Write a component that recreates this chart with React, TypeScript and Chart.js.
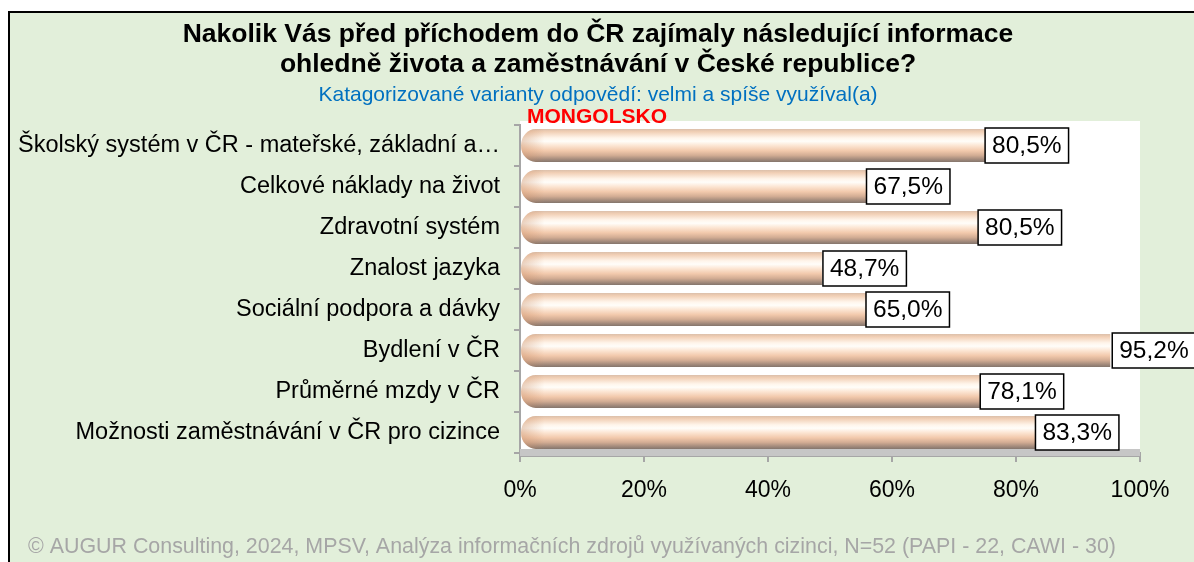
import React, { useEffect, useRef } from "react";
import { Chart, registerables } from "chart.js";

Chart.register(...registerables);

const categories = [
  "Školský systém v ČR - mateřské, základní a…",
  "Celkové náklady na život",
  "Zdravotní systém",
  "Znalost jazyka",
  "Sociální podpora a dávky",
  "Bydlení v ČR",
  "Průměrné mzdy v ČR",
  "Možnosti zaměstnávání v ČR pro cizince",
];
const values = [80.5, 67.5, 80.5, 48.7, 65.0, 95.2, 78.1, 83.3];
const xTicks = [0, 20, 40, 60, 80, 100];
const titleLines = [
  "Nakolik Vás před příchodem do ČR zajímaly následující informace",
  "ohledně života a zaměstnávání v České republice?",
];
const subtitleText = "Katagorizované varianty odpovědí: velmi a spíše využíval(a)";
const countryText = "MONGOLSKO";
const footerText =
  "© AUGUR Consulting, 2024, MPSV, Analýza informačních zdrojů využívaných cizinci, N=52 (PAPI - 22, CAWI - 30)";

const FONT = '"Liberation Sans", Arial, sans-serif';

function fmt(v: number) {
  return v.toFixed(1).replace(".", ",") + "%";
}

function drawCylinder(ctx: CanvasRenderingContext2D, x0: number, x1: number, yc: number, h: number) {
  const top = yc - h / 2;
  const g = ctx.createLinearGradient(0, top, 0, top + h);
  g.addColorStop(0, "#DCC0AB");
  g.addColorStop(0.08, "#F1CFB5");
  g.addColorStop(0.27, "#FFF5EB");
  g.addColorStop(0.37, "#FFFDF9");
  g.addColorStop(0.5, "#FCE6D4");
  g.addColorStop(0.66, "#F2C9AC");
  g.addColorStop(0.8, "#D3AD94");
  g.addColorStop(0.92, "#A48B7C");
  g.addColorStop(1, "#85766D");
  const rx = h * 0.45;
  ctx.save();
  ctx.beginPath();
  ctx.moveTo(x1, top);
  ctx.lineTo(x0 + rx, top);
  ctx.ellipse(x0 + rx, yc, rx, h / 2, 0, -Math.PI / 2, Math.PI / 2, true);
  ctx.lineTo(x1, top + h);
  ctx.closePath();
  ctx.fillStyle = g;
  ctx.fill();
  const hg = ctx.createLinearGradient(x0, 0, x0 + rx * 1.6, 0);
  hg.addColorStop(0, "rgba(200,140,100,0.4)");
  hg.addColorStop(1, "rgba(200,140,100,0)");
  ctx.fillStyle = hg;
  ctx.fill();
  ctx.restore();
}

const decorPlugin = {
  id: "decor",
  beforeDraw(chart: any) {
    const { ctx, chartArea: a } = chart;
    ctx.save();
    ctx.fillStyle = "#FFFFFF";
    ctx.fillRect(a.left, a.top - 4, a.right - a.left, a.bottom - a.top + 4);
    ctx.restore();
  },
  beforeDatasetsDraw(chart: any) {
    const { ctx, chartArea: a } = chart;
    ctx.save();
    ctx.fillStyle = "#C6C6C6";
    ctx.fillRect(a.left, a.bottom - 4, a.right - a.left, 8);
    ctx.fillStyle = "#A6A6A6";
    ctx.fillRect(a.left, a.bottom + 3, a.right - a.left, 1);
    ctx.restore();
  },
  afterDatasetsDraw(chart: any, _args: any, opts: any) {
    const { ctx } = chart;
    const meta = chart.getDatasetMeta(0);
    const shifts: number[] = opts.labelShift || [];
    meta.data.forEach((el: any) => {
      const p = el.getProps(["x", "y", "base", "height"], true);
      drawCylinder(ctx, p.base, p.x, p.y, p.height);
    });
    ctx.save();
    ctx.font = `24.5px ${FONT}`;
    ctx.textBaseline = "middle";
    ctx.textAlign = "left";
    meta.data.forEach((el: any, i: number) => {
      const p = el.getProps(["x", "y"], true);
      const txt = fmt(values[i]);
      const w = ctx.measureText(txt).width + 14;
      const h = 35;
      const left = p.x + (shifts[i] || 0);
      ctx.fillStyle = "#FFFFFF";
      ctx.fillRect(left, p.y - h / 2, w, h);
      ctx.lineWidth = 1.5;
      ctx.strokeStyle = "#000000";
      ctx.strokeRect(left, p.y - h / 2, w, h);
      ctx.fillStyle = "#000000";
      ctx.fillText(txt, left + 7, p.y + 1);
    });
    ctx.restore();
  },
  afterDraw(chart: any) {
    const { ctx } = chart;
    ctx.save();
    ctx.textAlign = "center";
    ctx.textBaseline = "alphabetic";
    ctx.fillStyle = "#000000";
    ctx.font = `bold 26.5px ${FONT}`;
    ctx.fillText(titleLines[0], 598, 42);
    ctx.fillText(titleLines[1], 598, 72);
    ctx.fillStyle = "#0070C0";
    ctx.font = `21px ${FONT}`;
    ctx.fillText(subtitleText, 598, 101);
    ctx.textAlign = "left";
    ctx.fillStyle = "#FF0000";
    ctx.font = `bold 21px ${FONT}`;
    ctx.fillText(countryText, 527, 123);
    ctx.fillStyle = "#A6A6A6";
    ctx.font = `21.4px ${FONT}`;
    ctx.fillText(footerText, 28, 553);
    ctx.restore();
  },
};

export default function App() {
  const ref = useRef<HTMLCanvasElement | null>(null);
  useEffect(() => {
    if (!ref.current) return;
    const chart = new Chart(ref.current, {
      type: "bar",
      data: {
        labels: categories,
        datasets: [
          {
            data: values,
            backgroundColor: "rgba(0,0,0,0)",
            borderWidth: 0,
            categoryPercentage: 0.8,
            barPercentage: 1,
          },
        ],
      },
      options: {
        indexAxis: "y",
        responsive: false,
        animation: false,
        events: [],
        layout: { padding: { left: 0, top: 125, right: 54, bottom: 49 } },
        plugins: {
          legend: { display: false },
          title: { display: false },
          tooltip: { enabled: false },
          decor: { labelShift: [-34, -72, -41, 1, -57, 2, -24, -1] },
        } as any,
        scales: {
          x: {
            min: 0,
            max: 100,
            afterBuildTicks: (s: any) => {
              s.ticks = xTicks.map((v) => ({ value: v }));
            },
            afterFit: (s: any) => {
              s.height = 60;
            },
            ticks: {
              callback: (v: any) => v + "%",
              color: "#000000",
              font: { family: FONT, size: 23 },
              padding: 15,
            },
            grid: {
              drawOnChartArea: false,
              drawTicks: true,
              tickLength: 9,
              color: "#A6A6A6",
              lineWidth: 2,
            },
            border: { color: "#A6A6A6", width: 2 },
          },
          y: {
            afterFit: (s: any) => {
              s.width = 520;
            },
            ticks: {
              color: "#000000",
              font: { family: FONT, size: 23.5 },
              padding: 14,
              autoSkip: false,
            },
            grid: {
              offset: true,
              drawOnChartArea: false,
              drawTicks: true,
              tickLength: 6,
              color: "#A6A6A6",
              lineWidth: 2,
            },
            border: { color: "#A6A6A6", width: 2 },
          },
        },
      },
      plugins: [decorPlugin],
    });
    return () => chart.destroy();
  }, []);

  return (
    <div style={{ position: "fixed", left: 0, top: 0, width: 1194, height: 562, overflow: "hidden" }}>
      <div
        style={{
          position: "absolute",
          left: 8,
          top: 11,
          width: 1220,
          height: 620,
          border: "2px solid #000",
          background: "#E2EFDA",
          boxSizing: "border-box",
        }}
      />
      <canvas
        ref={ref}
        width={1194}
        height={562}
        style={{ position: "absolute", left: 0, top: 0, width: 1194, height: 562 }}
      />
    </div>
  );
}
